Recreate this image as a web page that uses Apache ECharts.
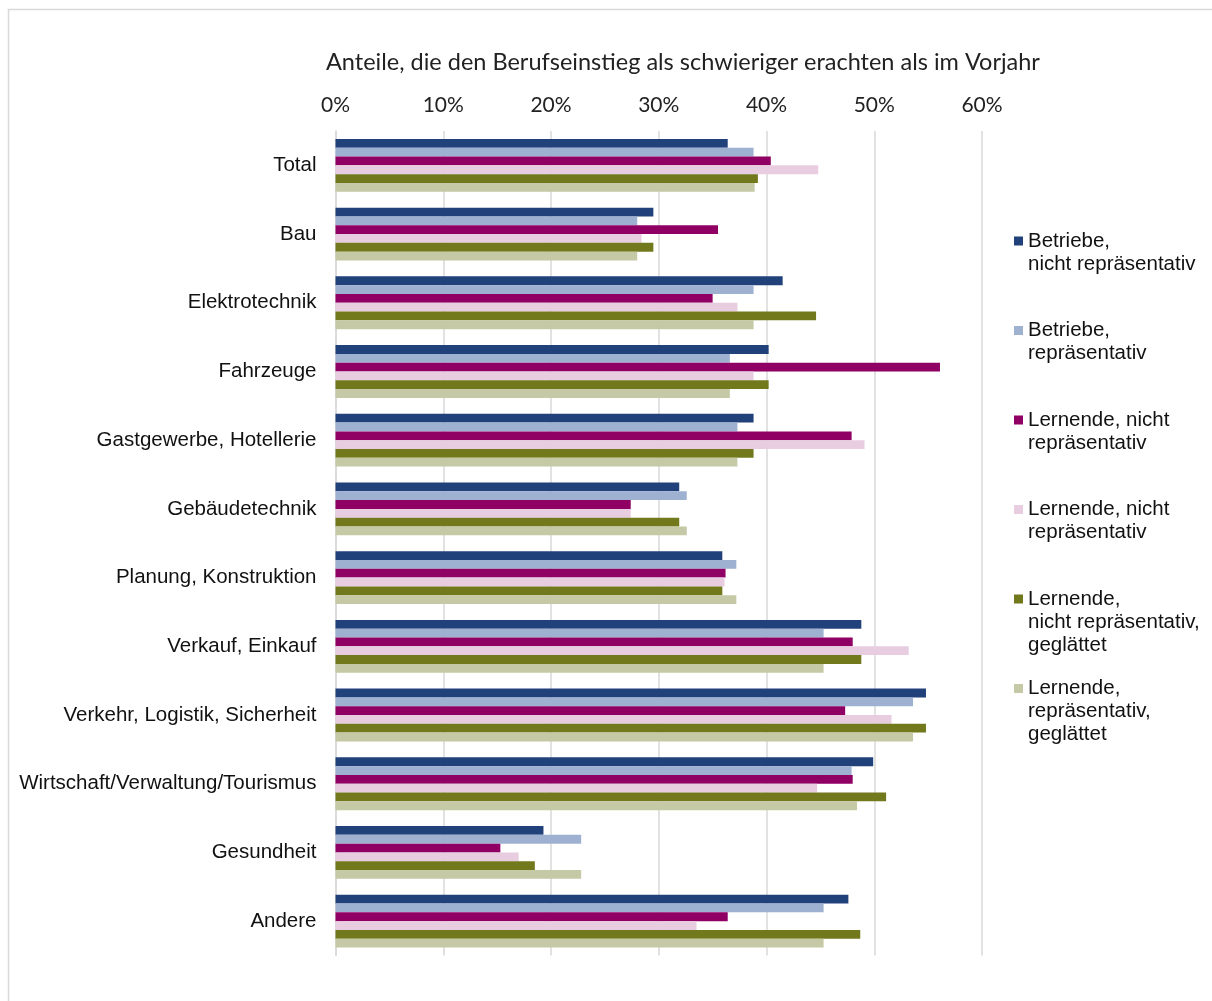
<!DOCTYPE html>
<html>
<head>
<meta charset="utf-8">
<script src="https://cdn.jsdelivr.net/npm/echarts@6/dist/echarts.min.js"></script>
<style>
html,body{margin:0;padding:0;background:#fff;}
#chart{width:1212px;height:1001px;}
</style>
</head>
<body>
<div id="chart"></div>
<script>
const TITLE = 'Anteile, die den Berufseinstieg als schwieriger erachten als im Vorjahr';
const categories = ['Total','Bau','Elektrotechnik','Fahrzeuge','Gastgewerbe, Hotellerie','Gebäudetechnik','Planung, Konstruktion','Verkauf, Einkauf','Verkehr, Logistik, Sicherheit','Wirtschaft/Verwaltung/Tourismus','Gesundheit','Andere'];
const seriesNames = ['Betriebe,\nnicht repräsentativ','Betriebe,\nrepräsentativ','Lernende, nicht\nrepräsentativ','Lernende, nicht\nrepräsentativ ','Lernende,\nnicht repräsentativ,\ngeglättet','Lernende,\nrepräsentativ,\ngeglättet'];
const betriebeNichtRep = [36.4,29.5,41.5,40.2,38.8,31.9,35.9,48.8,54.8,49.9,19.3,47.6];
const betriebeRep      = [38.8,28.0,38.8,36.6,37.3,32.6,37.2,45.3,53.6,47.9,22.8,45.3];
const lernendeNichtRepA= [40.4,35.5,35.0,56.1,47.9,27.4,36.2,48.0,47.3,48.0,15.3,36.4];
const lernendeNichtRepB= [44.8,28.4,37.3,38.8,49.1,27.4,36.1,53.2,51.6,44.7,17.0,33.5];
const lernendeNichtRepGl=[39.2,29.5,44.6,40.2,38.8,31.9,35.9,48.8,54.8,51.1,18.5,48.7];
const lernendeRepGl    = [38.9,28.0,38.8,36.6,37.3,32.6,37.2,45.3,53.6,48.4,22.8,45.3];
const tickValues = [0,10,20,30,40,50,60];

const colors = ['#21417A','#9FB1D0','#900064','#E8CCE0','#72781C','#C6C9A5'];
const seriesData = [betriebeNichtRep,betriebeRep,lernendeNichtRepA,lernendeNichtRepB,lernendeNichtRepGl,lernendeRepGl];

const chart = echarts.init(document.getElementById('chart'), null, {renderer:'canvas'});

const legendCenters = [241, 330.5, 420, 509.5, 599, 688.5];
const legends = seriesNames.map((n,i)=>{
  const lines = n.split('\n').length;
  const H = lines*23;
  return {
    data:[n],
    orient:'vertical',
    left:1014,
    top: legendCenters[i]-11.5,
    padding:0,
    itemWidth:9,
    itemHeight:H,
    selectedMode:false,
    icon:`path://M0,7h9v9h-9z M0,0h0.01v0.01h-0.01z M0,${H}h0.01v-0.01h-0.01z`,
    itemStyle:{borderWidth:0},
    textStyle:{fontFamily:'"Liberation Sans", Arial, sans-serif',fontSize:20.5,lineHeight:23,color:'#111'}
  };
});

chart.setOption({
  animation:false,
  backgroundColor:'#fff',
  title:{
    text:TITLE,
    left:321, top:45,
    textStyle:{fontFamily:'Lato, "Open Sans", sans-serif',fontSize:23.5,fontWeight:'normal',color:'#222'}
  },
  graphic:[{type:'rect',shape:{x:8.5,y:9.5,width:1210,height:1010},style:{fill:'none',stroke:'#d9d9d9',lineWidth:1.5},silent:true}],
  legend:legends,
  grid:{left:335.5,right:230,top:131,bottom:45.5,containLabel:false},
  xAxis:{
    type:'value',position:'top',min:0,max:60,interval:10,
    axisLine:{show:false},axisTick:{show:false},
    splitLine:{show:true,lineStyle:{color:'#d9d9d9',width:1.5}},
    axisLabel:{formatter:v=>tickValues.includes(v)?v+'%':'',margin:15,fontFamily:'Lato, "Open Sans", sans-serif',fontSize:21,color:'#222'}
  },
  yAxis:{
    type:'category',data:categories,inverse:true,
    axisLine:{show:true,lineStyle:{color:'#d9d9d9',width:1.5}},
    axisTick:{show:false},
    axisLabel:{margin:19,fontFamily:'"Liberation Sans", Arial, sans-serif',fontSize:20.5,color:'#111'}
  },
  series:seriesNames.map((n,i)=>({
    name:n,type:'bar',data:seriesData[i],barWidth:8.8,barGap:'0%',
    itemStyle:{color:colors[i]}
  }))
});
</script>
</body>
</html>
